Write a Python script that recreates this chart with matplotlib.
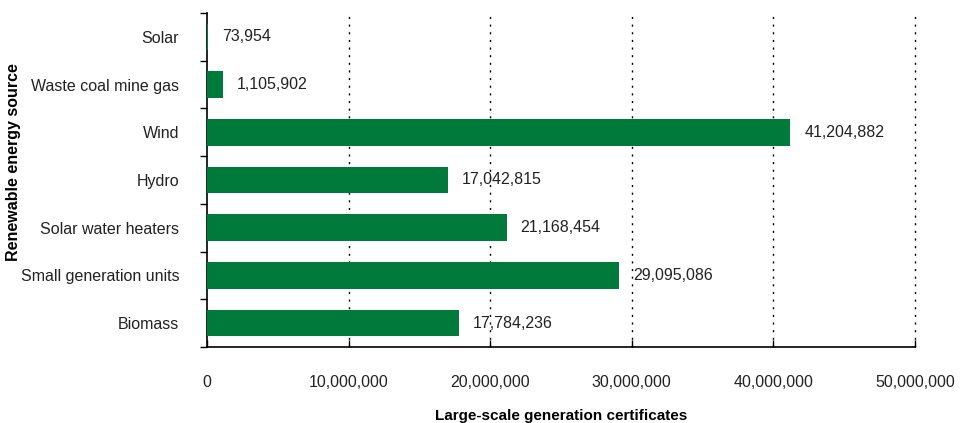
import matplotlib
matplotlib.use('Agg')
import matplotlib.pyplot as plt
from matplotlib.ticker import FuncFormatter
import numpy as np

GREEN = '#007A3A'

sources = ['Solar', 'Waste coal mine gas', 'Wind', 'Hydro',
           'Solar water heaters', 'Small generation units', 'Biomass']
certificates = [73954, 1105902, 41204882, 17042815, 21168454, 29095086, 17784236]
x_ticks = [0, 10000000, 20000000, 30000000, 40000000, 50000000]

plt.rcParams['font.family'] = ['Liberation Sans', 'DejaVu Sans']

fig = plt.figure(figsize=(9.6, 4.23), dpi=100)
ax = fig.add_axes([0.2156, 0.18, 0.7375, 0.789])

y = np.arange(len(sources))
ax.barh(y, certificates, height=0.56, color=GREEN, zorder=3)
for yi, v in zip(y, certificates):
    ax.annotate(f'{v:,}', (v, yi), xytext=(10, 0), textcoords='offset points',
                ha='left', va='center', fontsize=11.5, color='#222222')

ax.set_ylim(len(sources) - 0.5, -0.5)
ax.set_xlim(0, 50000000)
ax.set_yticks(y)
ax.set_yticklabels(sources, fontsize=11.5, color='#222222')
ax.tick_params(axis='y', which='major', length=0, pad=20)
ax.set_yticks(np.arange(-0.5, len(sources)), minor=True)
ax.tick_params(axis='y', which='minor', length=5, width=1, direction='out')

ax.set_xticks(x_ticks)
ax.xaxis.set_major_formatter(FuncFormatter(lambda v, p: f'{int(v):,}'))
ax.tick_params(axis='x', length=5, width=1, direction='in', pad=20,
               labelsize=11.5, labelcolor='#222222')

for xv in x_ticks[1:]:
    ax.axvline(xv, color='black', linestyle=(0, (1.5, 4)), linewidth=1,
               zorder=1, clip_on=False)

ax.spines['top'].set_visible(False)
ax.spines['right'].set_visible(False)
ax.spines['left'].set_linewidth(1.2)
ax.spines['bottom'].set_linewidth(1.2)

ax.set_xlabel('Large-scale generation certificates', fontsize=11,
              fontweight='bold', labelpad=14)
ax.set_ylabel('Renewable energy source', fontsize=11.5, fontweight='bold')
ax.yaxis.set_label_coords(-0.262, 0.554)

fig.savefig('out.png', dpi=100, facecolor='white')
